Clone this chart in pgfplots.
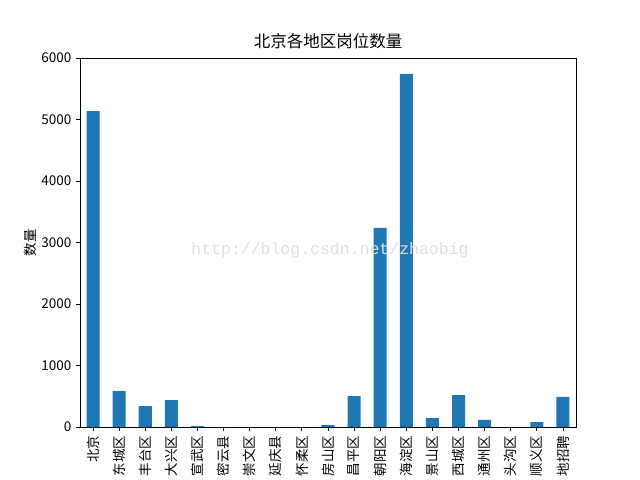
\documentclass[border=0pt]{standalone}
\usepackage{fontspec}
\setmainfont{Noto Sans CJK SC}
\newfontfamily\wmfont{Liberation Mono}
\usepackage{pgfplots}
\pgfplotsset{compat=1.18}
\definecolor{barblue}{HTML}{1F77B4}
\begin{document}
\fontsize{13.5bp}{16bp}\selectfont
\begin{tikzpicture}
\useasboundingbox (-80bp,-53bp) rectangle (560bp,427bp);
\begin{axis}[
  scale only axis,
  width=496bp, height=369bp,
  xmin=-0.5, xmax=18.5,
  ymin=0, ymax=6000,
  ytick={0,1000,...,6000},
  xtick={0,...,18},
  xtick pos=left, ytick pos=left,
  xticklabels={北京,东城区,丰台区,大兴区,宣武区,密云县,崇文区,延庆县,怀柔区,房山区,昌平区,朝阳区,海淀区,景山区,西城区,通州区,头沟区,顺义区,地招聘},
  x tick label style={rotate=90, anchor=east, font=\fontsize{13.5bp}{16bp}\selectfont},
  y tick label style={font=\fontsize{13.5bp}{16bp}\selectfont},
  /pgf/number format/assume math mode=true,
  scaled y ticks=false,
  yticklabel style={/pgf/number format/1000 sep={}},
  tick align=outside,
  major tick length=4bp,
  tick style={black, line width=0.8bp},
  axis line style={line width=0.8bp},
  title={北京各地区岗位数量},
  title style={font=\fontsize{16.5bp}{19bp}\selectfont, yshift=-2bp},
  ylabel={数量},
  ylabel style={font=\fontsize{13.5bp}{16bp}\selectfont, xshift=0bp, yshift=-4bp},
  ybar, bar width=0.5, bar shift=0pt,
  clip=false,
]
\addplot[fill=barblue, draw=none] coordinates {
  (0,5138) (1,585) (2,341) (3,439) (4,15) (5,0) (6,0) (7,0) (8,0)
  (9,30) (10,504) (11,3236) (12,5740) (13,146) (14,520) (15,114)
  (16,0) (17,81) (18,488)
};
\node[text=black!13, font=\wmfont\fontsize{16.5bp}{19bp}\selectfont]
  at (rel axis cs:0.504,0.48) {http://blog.csdn.net/zhaobig};
\end{axis}
\end{tikzpicture}
\end{document}
